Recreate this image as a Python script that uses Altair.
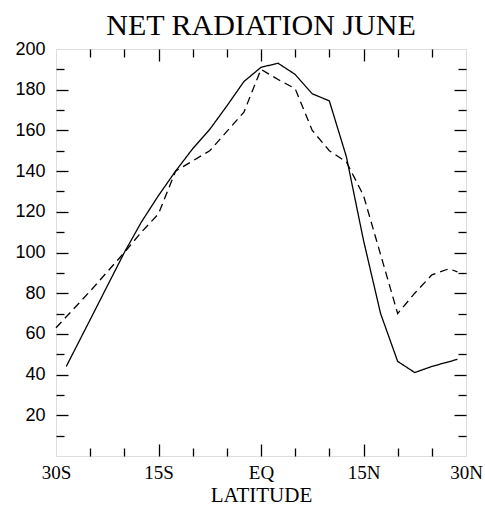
import altair as alt
import pandas as pd

# Net radiation (W m-2) by latitude, two estimates
lat_solid = [-28.5, -25, -20, -17.5, -15, -12.5, -10, -7.5, -5, -2.5, 0, 2.5, 5, 7.5,
             10, 12.5, 15, 17.5, 20, 22.5, 25, 28.75]
val_solid = [44, 67, 100, 115, 128, 140, 151, 160.5, 172, 184, 191, 193, 187.5, 178,
             174.5, 147, 106, 70, 46.5, 41, 44, 47.5]

lat_dash = [-30, -25, -20, -17.5, -15, -12.5, -10, -7.5, -5, -2.5, 0, 2.5, 5, 7.5,
            10, 12.5, 15, 17.5, 20, 22.5, 25, 27.5, 28.75]
val_dash = [63, 81, 100, 110, 119, 140, 145, 150, 159.5, 169, 190, 185, 180.5, 160,
            150, 144.5, 128, 99, 70, 80, 89, 92, 90.5]

# Axis labels and tick positions
x_label_values = [-30, -15, 0, 15, 30]
y_label_values = [20, 40, 60, 80, 100, 120, 140, 160, 180, 200]
x_major_ticks = [-15, 0, 15]
x_minor_ticks = [-25, -20, -10, -5, 5, 10, 20, 25]
y_major_ticks = [20, 40, 60, 80, 100, 120, 140, 160, 180]
y_minor_ticks = [10, 30, 50, 70, 90, 110, 130, 150, 170, 190]

df = pd.concat([
    pd.DataFrame({"lat": lat_solid, "value": val_solid, "series": "solid"}),
    pd.DataFrame({"lat": lat_dash, "value": val_dash, "series": "dashed"}),
], ignore_index=True)

xs = alt.Scale(domain=[-30, 30], nice=False, zero=False)
ys = alt.Scale(domain=[0, 200], nice=False, zero=False)

SERIF = "Liberation Serif"
SANS = "Liberation Sans"

lines = alt.Chart(df).mark_line(color="black", strokeWidth=1.3).encode(
    x=alt.X("lat:Q", scale=xs, axis=alt.Axis(
        values=x_label_values,
        labelExpr="datum.value == 0 ? 'EQ' : (datum.value < 0 ? (-datum.value) + 'S' : datum.value + 'N')",
        ticks=False, domain=False, grid=False, labelFlush=False, labelOverlap=False,
        labelFont=SERIF, labelFontSize=19, labelColor="black", labelPadding=7,
        title="LATITUDE", titleFont=SERIF, titleFontSize=21, titleFontWeight="normal",
        titleColor="black", titlePadding=2)),
    y=alt.Y("value:Q", scale=ys, axis=alt.Axis(
        values=y_label_values, ticks=False, domain=False, grid=False,
        labelFont=SANS, labelFontSize=18, labelColor="black", labelPadding=11,
        labelOverlap=False, title=None)),
    strokeDash=alt.StrokeDash("series:N", scale=alt.Scale(
        domain=["solid", "dashed"], range=[[1, 0], [8, 5]]), legend=None),
)


def tick_layer(xvals, xorient, xsize, yvals, yorient, ysize):
    # Invisible marks carrying inward-pointing tick axes
    return alt.Chart(df).mark_point(opacity=0).encode(
        x=alt.X("lat:Q", scale=xs, axis=alt.Axis(
            orient=xorient, values=xvals, tickSize=xsize, offset=-xsize,
            labels=False, domain=False, grid=False, title=None,
            tickColor="black", tickWidth=1.3)),
        y=alt.Y("value:Q", scale=ys, axis=alt.Axis(
            orient=yorient, values=yvals, tickSize=ysize, offset=-ysize,
            labels=False, domain=False, grid=False, title=None,
            tickColor="black", tickWidth=1.3)),
    )


chart = alt.layer(
    lines,
    tick_layer(x_major_ticks, "bottom", 12, y_major_ticks, "left", 12),
    tick_layer(x_minor_ticks, "bottom", 8, y_minor_ticks, "left", 8),
    tick_layer(x_major_ticks, "top", 12, y_major_ticks, "right", 12),
    tick_layer(x_minor_ticks, "top", 8, y_minor_ticks, "right", 8),
).resolve_axis(
    x="independent", y="independent"
).properties(
    width=410,
    height=407,
    padding={"left": 56, "top": 49, "right": 19, "bottom": 50},
    autosize=alt.AutoSizeParams(type="none"),
    title=alt.TitleParams("NET RADIATION JUNE", font=SERIF, fontSize=30,
                          fontWeight="normal", color="black", anchor="middle",
                          offset=9, dy=10),
).configure_view(
    stroke="black", strokeWidth=1.5
).configure(background="white")

chart.save("out.html", embed_options={"renderer": "svg", "actions": False})
